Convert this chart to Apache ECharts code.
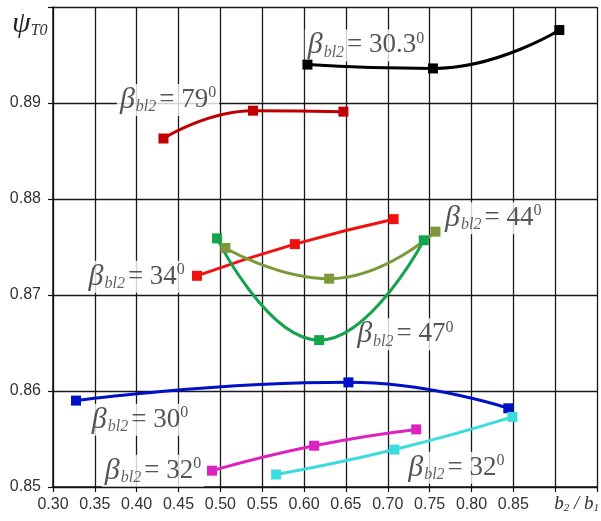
<!DOCTYPE html>
<html>
<head>
<meta charset="utf-8">
<script src="https://cdn.jsdelivr.net/npm/echarts@6/dist/echarts.min.js"></script>
<style>
  html, body { margin: 0; padding: 0; background: #fff; }
  #chart { width: 601px; height: 521px; }
</style>
</head>
<body>
<div id="chart"></div>
<script>
// Relative width b2/b1 (x) and efficiency psi_T0 (y) for each blade angle
const x_303 = [0.604, 0.754, 0.905];
const y_303 = [0.8940, 0.8936, 0.8976];

const x_79 = [0.432, 0.539, 0.647];
const y_79 = [0.8863, 0.8892, 0.8891];

const x_34 = [0.472, 0.589, 0.707];
const y_34 = [0.8720, 0.8753, 0.8779];

const x_47 = [0.496, 0.618, 0.743];
const y_47 = [0.8759, 0.8653, 0.8757];

const x_44 = [0.506, 0.630, 0.757];
const y_44 = [0.8749, 0.8717, 0.8766];

const x_30 = [0.3275, 0.653, 0.844];
const y_30 = [0.8590, 0.8609, 0.8582];

const x_32a = [0.490, 0.612, 0.734];
const y_32a = [0.8517, 0.8543, 0.8560];

const x_32b = [0.5666, 0.708, 0.849];
const y_32b = [0.8513, 0.8539, 0.8573];

// Curve annotations: blade angle text and anchor in data units
const noteAngle = ['79', '30.3', '34', '44', '47', '30', '32', '32'];
const noteX = [0.4375, 0.674, 0.400, 0.826, 0.721, 0.404, 0.4195, 0.782];
const noteY = [0.8903, 0.8960, 0.8719, 0.8780, 0.8659, 0.8570, 0.8517, 0.8520];

// Axis ticks
const xMin = 0.30, xMax = 0.95, xStep = 0.05;
const yMin = 0.85, yMax = 0.90, yStep = 0.01;
const xHiddenLabels = ['0.90', '0.95'];
const yHiddenLabels = ['0.90'];

const curves = [
  { x: x_303, y: y_303, color: '#000000' },
  { x: x_79,  y: y_79,  color: '#c00000' },
  { x: x_34,  y: y_34,  color: '#f01010' },
  { x: x_47,  y: y_47,  color: '#14a44e' },
  { x: x_44,  y: y_44,  color: '#7c983a' },
  { x: x_30,  y: y_30,  color: '#0010c8' },
  { x: x_32a, y: y_32a, color: '#de22c0' },
  { x: x_32b, y: y_32b, color: '#3cdcdc' }
];

const serif = 'Liberation Serif';
const noteRich = {
  b: { fontFamily: serif, fontStyle: 'italic', fontSize: 30, lineHeight: 30, verticalAlign: 'middle', color: '#2a2a2a' },
  s: { fontFamily: serif, fontStyle: 'italic', fontSize: 16, lineHeight: 13, verticalAlign: 'bottom', color: '#3a3a3a', padding: [0, 0, 0, 1] },
  t: { fontFamily: serif, fontSize: 27, lineHeight: 30, verticalAlign: 'middle', color: '#2a2a2a', padding: [0, 0, 0, 3] },
  p: { fontFamily: serif, fontSize: 16, lineHeight: 21, verticalAlign: 'top', color: '#2a2a2a' }
};

const lineSeries = curves.map(c => ({
  type: 'line',
  smooth: true,
  z: 3,
  symbol: 'rect',
  symbolSize: 10,
  data: c.x.map((v, i) => [v, c.y[i]]),
  lineStyle: { color: c.color, width: 3 },
  itemStyle: { color: c.color },
  emphasis: { disabled: true }
}));

const noteSeries = {
  type: 'scatter',
  z: 2,
  symbolSize: 1,
  itemStyle: { color: 'rgba(0,0,0,0)' },
  data: noteX.map((v, i) => [v, noteY[i]]),
  label: {
    show: true,
    position: 'inside',
    fontFamily: serif,
    backgroundColor: '#fff',
    padding: [1, 3],
    formatter: p => '{b|β}{s|bl2}{t|= ' + noteAngle[p.dataIndex] + '}{p|0}',
    rich: noteRich
  },
  emphasis: { disabled: true }
};

const axisLabelStyle = {
  fontFamily: 'Liberation Sans',
  fontSize: 16,
  color: '#333'
};

const chart = echarts.init(document.getElementById('chart'), null, { renderer: 'canvas' });
chart.setOption({
  backgroundColor: '#fff',
  animation: false,
  grid: { left: 53, right: 4, top: 7, bottom: 34 },
  xAxis: {
    type: 'value',
    min: xMin, max: xMax, interval: xStep,
    axisLine: { show: true, lineStyle: { color: '#111', width: 1.5 } },
    axisTick: { show: true, length: 5, lineStyle: { color: '#111', width: 1.2 } },
    splitLine: { show: true, lineStyle: { color: '#1a1a1a', width: 1.3 } },
    axisLabel: Object.assign({
      margin: 10,
      formatter: v => { const s = v.toFixed(2); return xHiddenLabels.includes(s) ? '' : s; }
    }, axisLabelStyle)
  },
  yAxis: {
    type: 'value',
    min: yMin, max: yMax, interval: yStep,
    axisLine: { show: true, lineStyle: { color: '#111', width: 1.5 } },
    axisTick: { show: true, length: 5, lineStyle: { color: '#111', width: 1.2 } },
    splitLine: { show: true, lineStyle: { color: '#1a1a1a', width: 1.3 } },
    axisLabel: Object.assign({
      margin: 12,
      formatter: v => { const s = v.toFixed(2); return yHiddenLabels.includes(s) ? '' : s; }
    }, axisLabelStyle)
  },
  graphic: [
    {
      type: 'text',
      left: 12,
      top: 9,
      style: {
        text: '{a|ψ}{b|T0}',
        rich: {
          a: { fontFamily: serif, fontStyle: 'italic', fontSize: 30, lineHeight: 30, verticalAlign: 'middle', fill: '#222' },
          b: { fontFamily: serif, fontStyle: 'italic', fontSize: 16, lineHeight: 14, verticalAlign: 'bottom', fill: '#333' }
        }
      }
    },
    {
      type: 'text',
      right: 2,
      top: 494,
      style: {
        text: '{a|b}{b|2}{a| / b}{b|1}',
        rich: {
          a: { fontFamily: serif, fontStyle: 'italic', fontSize: 19, lineHeight: 20, verticalAlign: 'middle', fill: '#333' },
          b: { fontFamily: serif, fontStyle: 'italic', fontSize: 11, lineHeight: 10, verticalAlign: 'bottom', fill: '#333' }
        }
      }
    }
  ],
  series: [noteSeries].concat(lineSeries)
});
</script>
</body>
</html>
